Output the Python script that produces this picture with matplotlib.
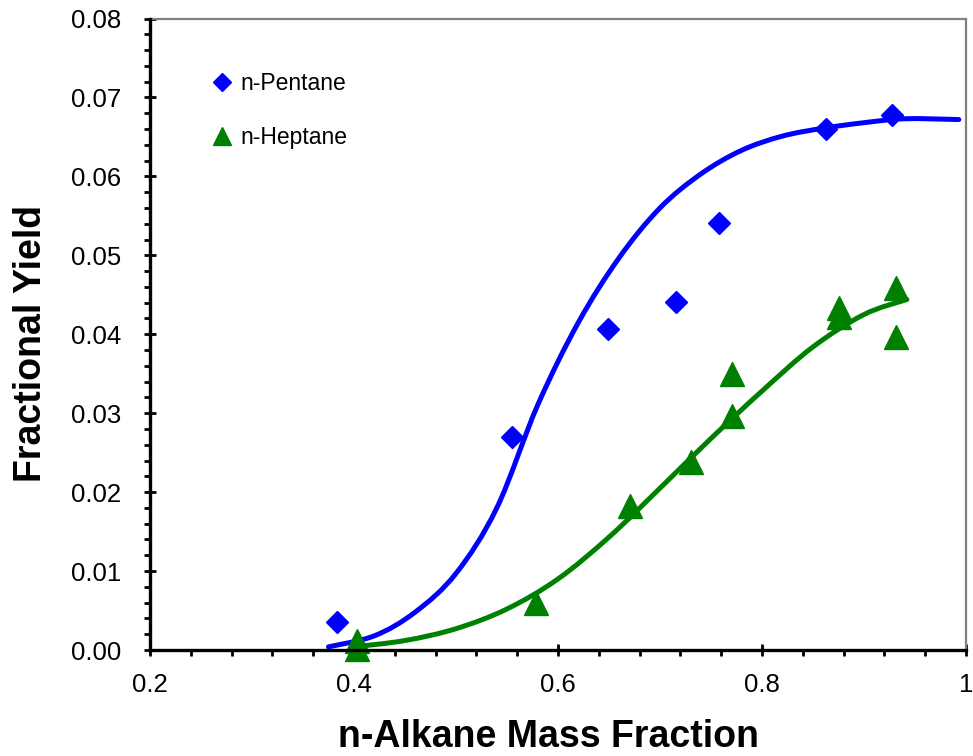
import matplotlib
matplotlib.use("Agg")
import matplotlib.pyplot as plt
from matplotlib.path import Path
from matplotlib.patches import PathPatch
from matplotlib.ticker import MultipleLocator

# ---- data ----
pentane_x = [0.383, 0.555, 0.649, 0.716, 0.758, 0.863, 0.927]
pentane_y = [0.0036, 0.0270, 0.0407, 0.0441, 0.0541, 0.0660, 0.0678]

heptane_x = [0.403, 0.403, 0.578, 0.671, 0.730, 0.771, 0.771, 0.875, 0.875, 0.931, 0.931]
heptane_y = [0.0012, 0.0001, 0.0059, 0.0183, 0.0238, 0.0297, 0.0350, 0.0433, 0.0422, 0.0458, 0.0397]

# fitted trend lines
pentane_fit_x = [0.375, 0.42, 0.46, 0.50, 0.54, 0.58, 0.62, 0.66, 0.70, 0.74,
                 0.78, 0.82, 0.86, 0.90, 0.94, 0.993]
pentane_fit_y = [0.0004, 0.0018, 0.0048, 0.0097, 0.0180, 0.0310, 0.0415, 0.0497, 0.0560, 0.0603,
                 0.0633, 0.0651, 0.0661, 0.0668, 0.0673, 0.0672]

heptane_fit_x = [0.400, 0.45, 0.50, 0.55, 0.60, 0.65, 0.70, 0.75, 0.80, 0.85, 0.90, 0.942]
heptane_fit_y = [0.0004, 0.0012, 0.0027, 0.0052, 0.0090, 0.0143, 0.0205, 0.0268, 0.0328, 0.0384,
                 0.0425, 0.0444]

x_ticks = [0.2, 0.4, 0.6, 0.8, 1.0]
x_tick_labels = ["0.2", "0.4", "0.6", "0.8", "1"]
y_ticks = [0.00, 0.01, 0.02, 0.03, 0.04, 0.05, 0.06, 0.07, 0.08]

BLUE = "#0000FF"
GREEN = "#008000"

plt.rcParams['font.family'] = ['Liberation Sans', 'DejaVu Sans']


def smooth_path(xs, ys):
    """Smoothed line through the given points (Catmull-Rom drawn as Bezier segments)."""
    pts = list(zip(xs, ys))
    verts = [pts[0]]
    codes = [Path.MOVETO]
    n = len(pts)
    for i in range(n - 1):
        p0 = pts[i - 1] if i > 0 else pts[i]
        p1 = pts[i]
        p2 = pts[i + 1]
        p3 = pts[i + 2] if i + 2 < n else pts[i + 1]
        c1 = (p1[0] + (p2[0] - p0[0]) / 6.0, p1[1] + (p2[1] - p0[1]) / 6.0)
        c2 = (p2[0] - (p3[0] - p1[0]) / 6.0, p2[1] - (p3[1] - p1[1]) / 6.0)
        verts += [c1, c2, p2]
        codes += [Path.CURVE4] * 3
    return Path(verts, codes)


fig = plt.figure(figsize=(9.73, 7.56), dpi=100)
W, H = 973, 756
left, right, top, bottom = 150, 966, 18.5, 650
ax = fig.add_axes([left / W, 1 - bottom / H, (right - left) / W, (bottom - top) / H])

for fx, fy, col in [(pentane_fit_x, pentane_fit_y, BLUE), (heptane_fit_x, heptane_fit_y, GREEN)]:
    patch = PathPatch(smooth_path(fx, fy), facecolor='none', edgecolor=col, lw=3.6,
                      capstyle='round', joinstyle='round', transform=ax.transData, zorder=2)
    ax.add_patch(patch)

ax.plot(pentane_x, pentane_y, linestyle='none', marker='D', ms=11.7, color=BLUE,
        mec=BLUE, label='n-Pentane', zorder=3, clip_on=False)
ax.plot(heptane_x, heptane_y, linestyle='none', marker='^', ms=17, color=GREEN,
        mec=GREEN, label='n-Heptane', zorder=3, clip_on=False)

ax.set_xlim(0.2, 1.0)
ax.set_ylim(0.0, 0.08)
ax.set_xticks(x_ticks)
ax.set_xticklabels(x_tick_labels)
ax.xaxis.set_minor_locator(MultipleLocator(0.04))
ax.set_yticks(y_ticks)
ax.set_yticklabels([f"{v:.2f}" for v in y_ticks])
ax.yaxis.set_minor_locator(MultipleLocator(0.002))

ax.tick_params(axis='both', which='major', direction='inout', length=9, width=2,
               labelsize=18.5, colors='black')
ax.tick_params(axis='both', which='minor', direction='out', length=4.5, width=2)
ax.tick_params(axis='x', which='major', pad=12)
ax.tick_params(axis='y', which='major', pad=16)
ax.tick_params(top=False, right=False, which='both')

for s in ['left', 'bottom']:
    ax.spines[s].set_color('black')
    ax.spines[s].set_linewidth(2.4)
    ax.spines[s].set_zorder(4)
for s in ['top', 'right']:
    ax.spines[s].set_color('#808080')
    ax.spines[s].set_linewidth(1.6)

ax.set_xlabel('n-Alkane Mass Fraction', fontsize=27, fontweight='bold')
ax.set_ylabel('Fractional Yield', fontsize=27, fontweight='bold')
ax.xaxis.set_label_coords((548 - left) / (right - left), -(747 - bottom) / (bottom - top))
ax.xaxis.label.set_va('baseline')
ax.yaxis.set_label_coords((31 - left) / (right - left), (bottom - 344) / (bottom - top))
ax.yaxis.label.set_va('center')

leg = ax.legend(loc='upper left',
                bbox_to_anchor=((211 - left) / (right - left), (bottom - 72) / (bottom - top)),
                frameon=False, fontsize=16.5, handlelength=1.0, handletextpad=0.3,
                borderpad=0, borderaxespad=0, labelspacing=1.37, markerscale=0.8,
                numpoints=1)

fig.savefig('out.png', dpi=100)
